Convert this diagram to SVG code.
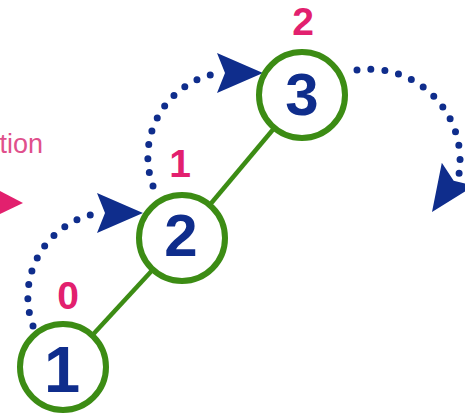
<svg xmlns="http://www.w3.org/2000/svg" width="465" height="418" viewBox="0 0 465 418">
<style>
.edge{stroke:#3c8c14;stroke-width:4.5;fill:none}
.ring{stroke:#3c8c14;stroke-width:6;fill:#fff}
.num{font-family:"Liberation Sans",Arial,sans-serif;font-weight:bold;font-size:60px;fill:#0f2d8c;text-anchor:middle}
.lbl{font-family:"Liberation Sans",Arial,sans-serif;font-weight:bold;font-size:39px;fill:#e2206e;text-anchor:middle}
.dots{stroke:#0f2d8c;stroke-width:7;stroke-linecap:round;stroke-dasharray:0 14;fill:none}
.head{fill:#0f2d8c}
</style>
<defs>
<path id="ah" d="M0,0 L-46,-20 L-38,0 L-46,20 Z"/>
</defs>
<text x="43" y="153" style="font-family:'Liberation Sans',Arial,sans-serif;font-size:27px;fill:#e0508c;text-anchor:end">tion</text>
<polygon points="0,191 23,203 0,214" fill="#e2206e"/>
<g id="connectors">
<line class="edge" x1="63" y1="367" x2="182" y2="238"/>
<line class="edge" x1="182" y1="238" x2="302" y2="95"/>
<path class="dots" d="M33,326 A85 85 0 0 1 99,213"/>
<use href="#ah" class="head" transform="translate(143,213)"/>
<path class="dots" d="M153,186 A85 85 0 0 1 219,73"/>
<use href="#ah" class="head" transform="translate(263,73)"/>
<path class="dots" d="M357,70 A91 91 0 0 1 459,174"/>
<use href="#ah" class="head" transform="translate(432,212) rotate(124.8)"/>
</g>
<g id="node1">
<circle class="ring" cx="63" cy="367" r="43"/>
<text class="num" x="62" y="392" style="font-size:65px">1</text>
<text class="lbl" x="68" y="309">0</text>
</g>
<g id="node2">
<circle class="ring" cx="182" cy="238" r="43"/>
<text class="num" x="181" y="256">2</text>
<text class="lbl" x="180" y="177">1</text>
</g>
<g id="node3">
<circle class="ring" cx="302" cy="95" r="43"/>
<text class="num" x="302" y="115">3</text>
<text class="lbl" x="303" y="35">2</text>
</g>
</svg>
